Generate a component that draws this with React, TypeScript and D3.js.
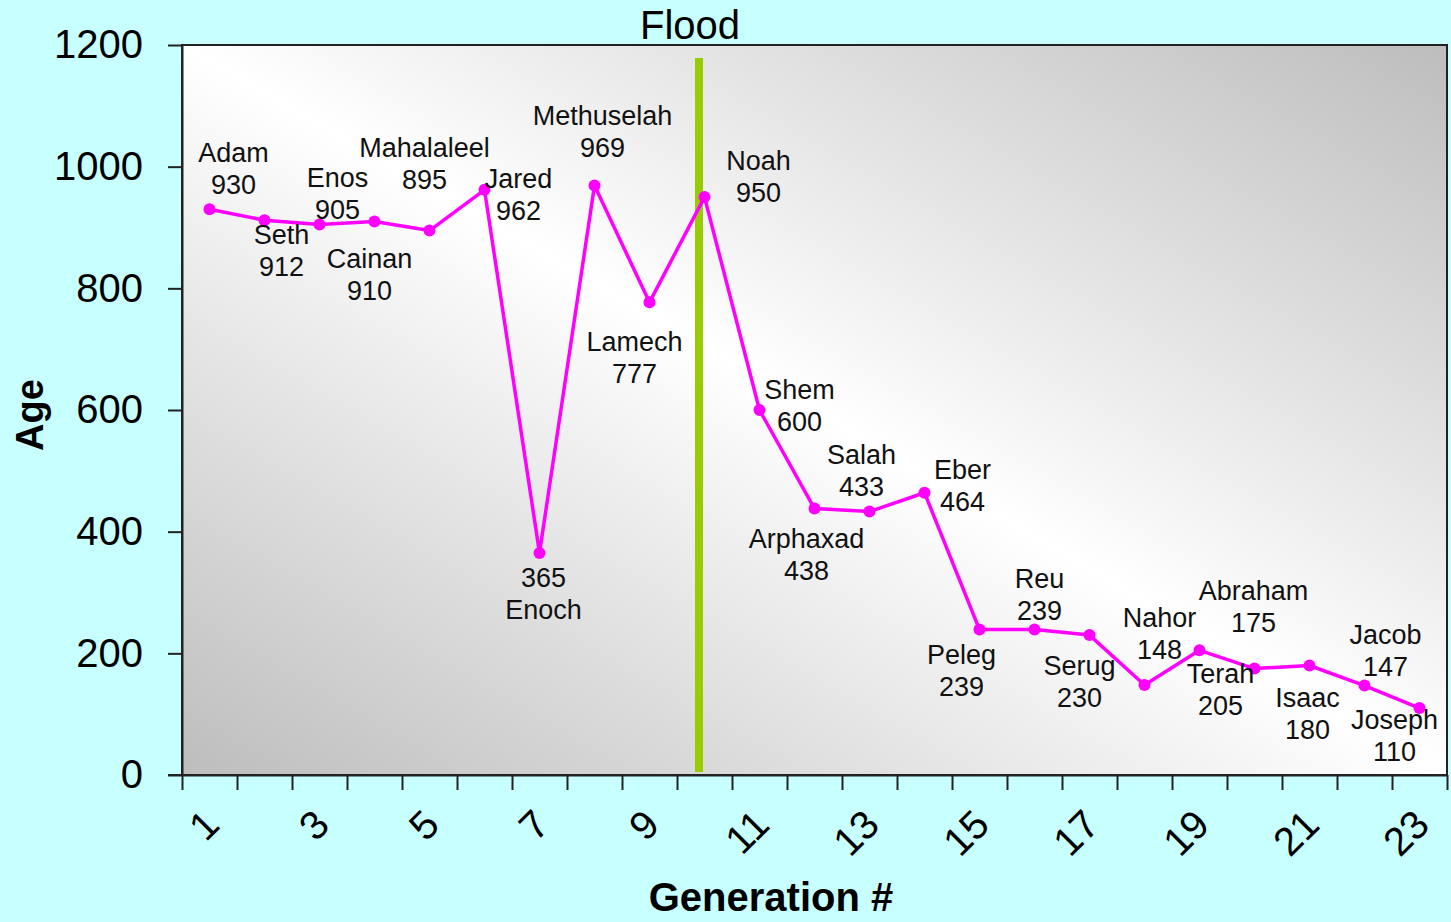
import React, { useEffect, useRef } from 'react';
import * as d3 from 'd3';

// Patriarchs by generation, with their age at death
const names = [
  'Adam', 'Seth', 'Enos', 'Cainan', 'Mahalaleel', 'Jared', 'Enoch', 'Methuselah',
  'Lamech', 'Noah', 'Shem', 'Arphaxad', 'Salah', 'Eber', 'Peleg', 'Reu', 'Serug',
  'Nahor', 'Terah', 'Abraham', 'Isaac', 'Jacob', 'Joseph'
];
const ages = [930, 912, 905, 910, 895, 962, 365, 969, 777, 950, 600, 438, 433, 464, 239, 239, 230, 148, 205, 175, 180, 147, 110];
const yTicks = [0, 200, 400, 600, 800, 1000, 1200];
const xTickLabels = [1, 3, 5, 7, 9, 11, 13, 15, 17, 19, 21, 23];
const floodGeneration = 9.9;

// label offsets from each point (first line centre), in px
const labelDx = [24, 17, 18, -5, -5, 34, 4, 8, -15, 54, 40, -8, -8, 38, -18, 5, -10, 15, 21, -1, -2, 21, -25];
const labelDy = [-56, 15, -46, 38, -83, -11, 25, -70, 40, -36, -20, 30, -57, -23, 25, -51, 31, -67, 24, -78, 32, -51, 12];
const valueFirst = ['Enoch'];

export default function App() {
  const svgRef = useRef<SVGSVGElement>(null);

  useEffect(() => {
    const W = 1451, H = 922;
    const left = 182, right = 1447, top = 45, bottom = 775;
    const svg = d3.select(svgRef.current);
    svg.selectAll('*').remove();
    svg.attr('width', W).attr('height', H);

    const font = '"Liberation Sans", Arial, sans-serif';

    // background
    svg.append('rect').attr('width', W).attr('height', H).attr('fill', '#c8ffff');

    const defs = svg.append('defs');
    const grad = defs.append('linearGradient')
      .attr('id', 'plotGrad')
      .attr('x1', 0).attr('y1', 1).attr('x2', 1).attr('y2', 0);
    grad.append('stop').attr('offset', '0%').attr('stop-color', '#bdbdbd');
    grad.append('stop').attr('offset', '50%').attr('stop-color', '#ffffff');
    grad.append('stop').attr('offset', '100%').attr('stop-color', '#bdbdbd');

    const x = d3.scaleLinear().domain([0.5, ages.length + 0.5]).range([left, right]);
    const y = d3.scaleLinear().domain([0, 1200]).range([bottom, top]);

    // plot area
    svg.append('rect')
      .attr('x', left).attr('y', top)
      .attr('width', right - left).attr('height', bottom - top)
      .attr('fill', 'url(#plotGrad)')
      .attr('stroke', '#222').attr('stroke-width', 2);

    // y axis
    const yAxis = svg.append('g')
      .attr('transform', `translate(${left},0)`)
      .call(d3.axisLeft(y).tickValues(yTicks).tickFormat(d => String(d))
        .tickSize(14).tickSizeOuter(0).tickPadding(25));
    yAxis.select('.domain').attr('stroke', '#222').attr('stroke-width', 2);
    yAxis.selectAll('line').attr('stroke', '#222').attr('stroke-width', 2);
    yAxis.selectAll('text')
      .attr('font-family', font).attr('font-size', 40).attr('fill', '#000');

    // x axis: ticks on category boundaries
    const boundaries = d3.range(0, ages.length + 1).map(i => i + 0.5);
    const xAxis = svg.append('g')
      .attr('transform', `translate(0,${bottom})`)
      .call(d3.axisBottom(x).tickValues(boundaries).tickSize(15).tickSizeOuter(0).tickFormat(() => ''));
    xAxis.select('.domain').attr('stroke', '#222').attr('stroke-width', 2);
    xAxis.selectAll('line').attr('stroke', '#222').attr('stroke-width', 2);
    // extend x axis line to meet y ticks
    svg.append('line')
      .attr('x1', left - 14).attr('x2', left)
      .attr('y1', bottom).attr('y2', bottom)
      .attr('stroke', '#222').attr('stroke-width', 2);

    svg.append('g').selectAll('text')
      .data(xTickLabels)
      .enter()
      .append('text')
      .attr('transform', d => `translate(${x(d) + 2},817) rotate(-45)`)
      .attr('text-anchor', 'end')
      .attr('dominant-baseline', 'central')
      .attr('font-family', font).attr('font-size', 40)
      .text(d => d);

    // flood line
    svg.append('line')
      .attr('x1', x(floodGeneration)).attr('x2', x(floodGeneration))
      .attr('y1', top + 13).attr('y2', bottom - 3)
      .attr('stroke', '#99cc00').attr('stroke-width', 8);

    svg.append('text')
      .attr('x', x(floodGeneration) - 9).attr('y', 39)
      .attr('text-anchor', 'middle')
      .attr('font-family', font).attr('font-size', 40)
      .text('Flood');

    // series line
    const pts = ages.map((v, i) => ({ gen: i + 1, v, name: names[i] }));
    const line = d3.line<{ gen: number; v: number }>()
      .x(d => x(d.gen))
      .y(d => y(d.v));
    svg.append('path')
      .datum(pts)
      .attr('d', line)
      .attr('fill', 'none')
      .attr('stroke', '#ff00ff')
      .attr('stroke-width', 3.5)
      .attr('stroke-linejoin', 'round');

    svg.append('g').selectAll('circle')
      .data(pts)
      .enter()
      .append('circle')
      .attr('cx', d => x(d.gen))
      .attr('cy', d => y(d.v))
      .attr('r', 6)
      .attr('fill', '#ff00ff');

    // data labels
    const labels = svg.append('g')
      .attr('font-family', font).attr('font-size', 27).attr('fill', '#111')
      .attr('text-anchor', 'middle');
    pts.forEach((d, i) => {
      const cx = x(d.gen) + labelDx[i];
      const cy = y(d.v) + labelDy[i];
      const lines = valueFirst.includes(d.name) ? [String(d.v), d.name] : [d.name, String(d.v)];
      lines.forEach((t, j) => {
        labels.append('text')
          .attr('x', cx)
          .attr('y', cy + j * 32)
          .attr('dominant-baseline', 'central')
          .text(t);
      });
    });

    // axis titles
    svg.append('text')
      .attr('transform', `translate(30,${(top + bottom) / 2 + 5}) rotate(-90)`)
      .attr('text-anchor', 'middle')
      .attr('dominant-baseline', 'central')
      .attr('font-family', font).attr('font-size', 38).attr('font-weight', 'bold')
      .text('Age');

    svg.append('text')
      .attr('x', 771).attr('y', 911)
      .attr('text-anchor', 'middle')
      .attr('font-family', font).attr('font-size', 40).attr('font-weight', 'bold')
      .text('Generation #');
  }, []);

  return (
    <div>
      <svg ref={svgRef} style={{ position: 'absolute', left: 0, top: 0, display: 'block' }}></svg>
    </div>
  );
}
